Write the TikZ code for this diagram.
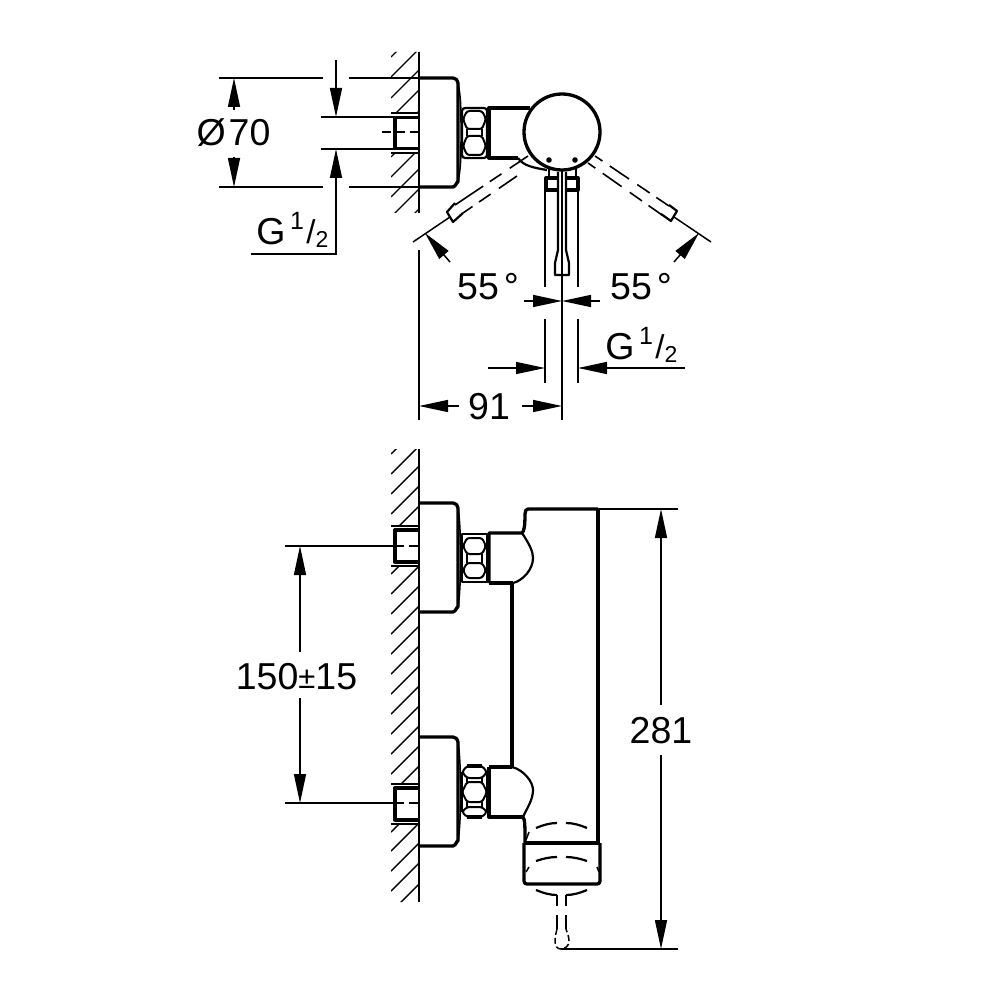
\documentclass[tikz,border=0pt]{standalone}
\usepackage{fontspec}
\setmainfont{Liberation Sans}
\usetikzlibrary{arrows.meta}
\tikzset{
 thinl/.style={line width=1.5pt,line cap=butt},
 medl/.style={line width=2.2pt,line join=round},
 thickl/.style={line width=3.3pt,line join=round},
 dashl/.style={line width=1.5pt,dash pattern=on 9pt off 5pt},
 levl/.style={line width=1.6pt,dash pattern=on 22pt off 10pt on 14pt off 8pt on 40pt},
 levr/.style={line width=1.6pt,dash pattern=on 9pt off 9pt on 23pt off 10pt on 15pt off 8pt on 40pt},
 dim/.style={line width=1.5pt,-{Triangle[length=29pt,width=12pt]}},
 lbl/.style={inner sep=0pt,font=\fontsize{37.5}{40}\selectfont},
 sup/.style={inner sep=0pt,font=\fontsize{25}{28}\selectfont},
 sub/.style={inner sep=0pt,font=\fontsize{23}{24}\selectfont},
 hatch/.style={line width=1.4pt},
 hexl/.style={line width=2pt,rounded corners=2.5pt}
}
\newcommand{\hatchline}[1]{\draw[hatch] (391,#1-391) -- (419,#1-419);}
\begin{document}
\begin{tikzpicture}[x=1pt,y=-1pt]
\useasboundingbox (0,0) rectangle (1000,1000);
\fill[white] (0,0) rectangle (1000,1000);
% ---- TOP VIEW ----
\begin{scope}
\clip (391,52) rectangle (419,112) (391,153) rectangle (419,213);
\foreach \s in {448,468,489,509,530,548,568,588,608,628}{\hatchline{\s}}
\end{scope}
\draw[thinl] (419,52) -- (419,213);
\draw[thinl] (419,250) -- (419,420);
% stub
\draw[medl] (391,113) -- (419,113);
\draw[medl] (391,153) -- (419,153);
\draw[thickl] (419,117.5) -- (395,117.5) -- (395,148.5) -- (419,148.5);
\draw[thinl] (321,117) -- (395,117);
\draw[thinl] (321,149) -- (395,149);
\draw[dashl] (382,132) -- (419,132);
% dims
\draw[thinl] (219,78) -- (323,78) (349,78) -- (419,78);
\draw[thinl] (219,187) -- (323,187) (349,187) -- (419,187);
\draw[dim] (234,110) -- (234,78);
\draw[dim] (234,157) -- (234,187);
\draw[dim] (336,60) -- (336,117);
\draw[dim] (251,254) -- (336,254) -- (336,149);
\node[lbl,anchor=center] (d70) at (233.5,133) {Ø\kern3pt 70};
\node[lbl,anchor=center] (g1) at (271,232) {G};
\node[sup] (g1a) at (297,221) {1};
\node[inner sep=0pt,font=\fontsize{33}{36}\selectfont] (g1b) at (311,232) {/};
\node[sub] (g1c) at (322,239) {2};
% flange
\draw[thickl] (419,78) -- (453,78) to[out=0,in=90] (458,83) -- (458,182) to[out=90,in=0] (453,187) -- (419,187);
\draw[thinl] (458,82) .. controls (461,100) and (461,105) .. (461,132) .. controls (461,160) and (461,165) .. (458,183);
% nut
\draw[medl,rounded corners=3pt] (462,108) rectangle (487,158);
\draw[hexl] (467,111) -- (482,111) -- (486,119) -- (482,129) -- (467,129) -- (463,119) -- cycle;
\draw[hexl] (467,136) -- (482,136) -- (486,146) -- (482,155) -- (467,155) -- (463,146) -- cycle;
\draw[thinl] (467,129) -- (467,136) (482,129) -- (482,136);
\draw[thickl] (530,108) -- (489,108) -- (489,158) -- (518,158);
\draw[medl] (518,158) .. controls (523,166) and (535,168) .. (547,170);
% dashed lever left
\draw[levl] (528,156) -- (455,205);
\draw[levl] (517,176) -- (463,213);
\draw[medl] (455,203) -- (447,212) -- (453,222) -- (463,213);
\draw[thinl] (450,217) -- (413,242);
\draw[dim] (450,262) -- (425,233);
% dashed lever right
\draw[levr] (595,156) -- (669,206);
\draw[levr] (588,163) -- (662,215);
\draw[medl] (669,205) -- (677,211) -- (671,221) -- (661,214);
\draw[thinl] (674,217) -- (711,242);
\draw[dim] (674,262) -- (699,233);
% body circle
\draw[thickl,fill=white] (562,132) circle (38);
\fill (549,160) circle (2.8) (575,160) circle (2.8);
% lever
\draw[medl] (549,169) -- (549,178) (576,169) -- (576,178);
\draw[thickl] (546,178) -- (578,178) -- (578,190) -- (546,190) -- cycle;
\draw[thinl] (545,190) -- (545,287) (578,190) -- (578,287);
\draw[medl,fill=white] (558,172) -- (558,250) -- (555,263) -- (555,275) -- (569,275) -- (569,263) -- (566,250) -- (566,172);
\draw[thinl] (562,170) -- (562,420);
% bottom dims
\draw[thinl] (545,319) -- (545,383) (578,319) -- (578,383);
\draw[dim] (524,301) -- (562,301);
\draw[dim] (600,301) -- (562,301);
\draw[dim] (488,368) -- (545,368);
\draw[dim] (685,368) -- (578,368);
\draw[dim] (459,406) -- (419,406);
\draw[dim] (522,406) -- (562,406);
\node[lbl] (a55l) at (488,287) {55\kern5pt °};
\node[lbl] (a55r) at (641,287) {55\kern5pt °};
\node[lbl] (d91) at (489,407) {91};
\node[lbl,anchor=center] (g2) at (620,347) {G};
\node[sup] (g2a) at (646,336) {1};
\node[inner sep=0pt,font=\fontsize{33}{36}\selectfont] (g2b) at (660,347) {/};
\node[sub] (g2c) at (671,354) {2};
% ---- SIDE VIEW ----
\begin{scope}
\clip (391,449) rectangle (419,525) (391,566) rectangle (419,783) (391,824) rectangle (419,902);
\foreach \s in {845,865,885,905,925,945,965,985,1005,1025,1045,1065,1085,1105,1125,1145,1165,1185,1205,1223,1242,1262,1282,1303}{\hatchline{\s}}
\end{scope}
\draw[thinl] (419,449) -- (419,902);
\foreach \yy/\ya/\yb/\yc/\yd in {546/526/530/562/566,803/784/788/820/824}{
 \draw[medl] (391,\ya) -- (419,\ya) (391,\yd) -- (419,\yd);
 \draw[thickl] (419,\yb) -- (395,\yb) -- (395,\yc) -- (419,\yc);
 \draw[thinl] (285,\yy) -- (395,\yy);
 \draw[dashl] (395,\yy) -- (419,\yy);
}
% flanges
\draw[thickl] (419,503) -- (453,503) to[out=0,in=90] (458,508) -- (458,607) to[out=90,in=0] (453,612) -- (419,612);
\draw[thinl] (458,507) .. controls (461.5,530) and (461.5,585) .. (458,608);
\draw[thickl] (419,737) -- (453,737) to[out=0,in=90] (458,742) -- (458,841) to[out=90,in=0] (453,846) -- (419,846);
\draw[thinl] (458,741) .. controls (461.5,765) and (461.5,820) .. (458,842);
% upper nut
\draw[medl] (462,534) rectangle (487,582);
\draw[hexl] (467,538) -- (482,538) -- (486,546) -- (482,554) -- (467,554) -- (463,546) -- cycle;
\draw[hexl] (467,563) -- (482,563) -- (486,570) -- (482,578) -- (467,578) -- (463,570) -- cycle;
\draw[thinl] (467,554) -- (467,563) (482,554) -- (482,563);
% lower nut
\draw[thickl] (467,766) -- (482,766);
\draw[thickl] (467,817) -- (482,817);
\draw[hexl] (467,766) -- (482,766) -- (487,772) -- (482,778) -- (467,778) -- (462,772) -- cycle;
\draw[hexl] (467,782) -- (482,782) -- (487,792) -- (482,802) -- (467,802) -- (462,792) -- cycle;
\draw[hexl] (467,807) -- (482,807) -- (487,812) -- (482,817) -- (467,817) -- (462,812) -- cycle;
\draw[thinl] (467,778) -- (467,782) (482,778) -- (482,782) (467,802) -- (467,807) (482,802) -- (482,807) (462,772) -- (462,812) (487,772) -- (487,812);
% body
\draw[thickl] (489,583) -- (489,533) -- (522,533) .. controls (524,531) and (525,527) .. (525,514) .. controls (525,511) and (526,509) .. (528,509) -- (598,509);
\draw[thinl] (598,509) -- (678,509);
\draw[thickl] (489,583) -- (513,583);
\draw[medl] (522,533) .. controls (530,545) and (533,552) .. (533,558) .. controls (533,570) and (522,581) .. (513,583);
\draw[thickl] (512,583) -- (512,767);
\draw[thickl] (489,767) -- (489,817) -- (523,817);
\draw[thickl] (489,767) -- (512,767);
\draw[medl] (512,767) .. controls (524,770) and (533,782) .. (533,790) .. controls (533,800) and (527,808) .. (523,817);
\draw[thickl] (598,509) -- (598,843);
\draw[thickl] (523,817) .. controls (525,820) and (525,825) .. (525,843);
\draw[line width=3.8pt] (524,843) -- (600,843);
\draw[thickl] (524,843) -- (524,881) .. controls (524,883) and (525,884) .. (527,884) -- (597,884) .. controls (599,884) and (600,883) .. (600,881) -- (600,843);
% shading arcs
\foreach \yy/\hh in {828/-5,861/-4,890/5}{
 \draw[medl] (536,\yy) .. controls (543,\yy+0.6*\hh) and (550,\yy+\hh) .. (557,\yy+\hh);
 \draw[medl] (566,\yy+\hh) .. controls (573,\yy+\hh) and (580,\yy+0.6*\hh) .. (587,\yy);
}
\draw[thinl] (526,840) -- (529,832) (598,832) -- (599,840) (526,872) -- (529,867) (597,867) -- (599,872);
% spout
\draw[thinl] (557,895) -- (557,906) (566,895) -- (566,906);
\draw[thinl] (557,915) -- (557,929) (566,915) -- (566,929);
\draw[thinl,dash pattern=on 6pt off 3pt] (557,929) .. controls (556,933) and (555,936) .. (555,941) .. controls (555,946) and (557,949) .. (561,949) .. controls (565,949) and (569,946) .. (569,941) .. controls (569,936) and (567,933) .. (566,929);
\draw[thinl] (561,949) -- (678,949);
% dims
\draw[dim] (300,652) -- (300,546);
\draw[dim] (300,698) -- (300,803);
\draw[dim] (661,705) -- (661,509);
\draw[dim] (661,755) -- (661,949);
\node[lbl] (d150) at (296.5,677) {150\raisebox{1pt}{\fontsize{31}{32}\selectfont ±}15};
\node[lbl] (d281) at (661,731) {281};
\end{tikzpicture}
\end{document}
